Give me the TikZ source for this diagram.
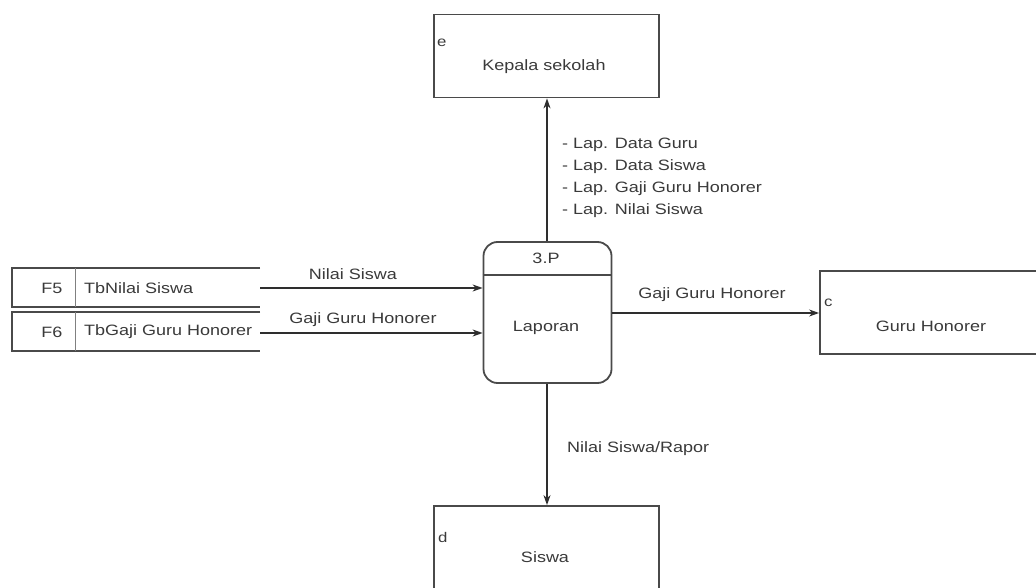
\documentclass[tikz,border=0pt]{standalone}
\usepackage{fontspec}
\setmainfont{Liberation Sans}[FakeStretch=1.2]
\usetikzlibrary{arrows.meta}
\definecolor{boxline}{HTML}{4A4A4A}
\definecolor{flowline}{HTML}{2E2E2E}
\definecolor{txt}{HTML}{3A3A3A}
\begin{document}
\begin{tikzpicture}[x=1pt,y=-1pt,
  entity/.style={draw=boxline, line width=1.8pt, minimum width=225pt, minimum height=83pt, inner sep=0pt},
  proc/.style={draw=boxline, line width=1.8pt, rounded corners=14pt, minimum width=128pt, minimum height=141pt, inner sep=0pt},
  store/.style={draw=none, minimum width=248pt, minimum height=39pt, inner sep=0pt},
  storeline/.style={draw=boxline, line width=1.6pt},
  flow/.style={draw=flowline, line width=1.4pt, -{Stealth[length=10pt,width=7pt]}},
  lbl/.style={font=\fontsize{15}{17}\selectfont, text=txt, inner sep=0pt},
  tag/.style={font=\fontsize{14}{16}\selectfont, text=txt, inner sep=0pt, anchor=west}
]
\useasboundingbox (0,0) rectangle (1036,588);
\clip (0,0) rectangle (1036,588);
\fill[white] (0,0) rectangle (1036,588);

% external entities
\node[entity] (kepala) at (546.5,56) {};
\node[tag] (kepalaid) at (437,43) {e};
\node[lbl] (kepalatxt) at (544,67) {Kepala sekolah};

\node[entity, minimum width=240pt] (guru) at (940,312.5) {};
\node[tag] (guruid) at (824,303) {c};
\node[lbl] (gurutxt) at (931,326) {Guru Honorer};

\node[entity, minimum height=110pt] (siswa) at (546.5,561) {};
\node[tag] (siswaid) at (438,537) {d};
\node[lbl] (siswatxt) at (545,557) {Siswa};

% process
\node[proc] (laporan) at (547.5,312.5) {};
\draw[storeline] (laporan.west |- 0,275) coordinate (pdl) -- (laporan.east |- 0,275) coordinate (pdr);
\node[lbl] (procid) at (546,258) {3.P};
\node[lbl] (proctxt) at (546,328) {Laporan};

% data stores
\node[store] (f5) at (136,287.5) {};
\draw[storeline] (f5.north east) -- (f5.north west) -- (f5.south west) -- (f5.south east);
\draw[storeline, line width=0.8pt, draw=boxline!70] (75,268) -- (75,307);
\node[lbl] (f5id) at (52,288) {F5};
\node[lbl, anchor=west] (f5txt) at (84,288) {TbNilai Siswa};

\node[store] (f6) at (136,331.5) {};
\draw[storeline] (f6.north east) -- (f6.north west) -- (f6.south west) -- (f6.south east);
\draw[storeline, line width=0.8pt, draw=boxline!70] (75,312) -- (75,351);
\node[lbl] (f6id) at (52,332) {F6};
\node[lbl, anchor=west] (f6txt) at (84,332) {TbGaji Guru Honorer};

% flows
\draw[flow] (f5.east |- 0,288) -- (laporan.west |- 0,288);
\node[lbl] (l1) at (353,274) {Nilai Siswa};
\draw[flow] (f6.east |- 0,333) -- (laporan.west |- 0,333);
\node[lbl] (l2) at (363,320) {Gaji Guru Honorer};

\draw[flow] (laporan.east |- 0,313) -- (guru.west |- 0,313);
\node[lbl] (l3) at (712,295) {Gaji Guru Honorer};

\draw[flow] (laporan.north -| 547,0) -- (kepala.south -| 547,0);
\node[lbl, anchor=west, align=left, font=\fontsize{15}{22}\selectfont] (l4) at (562,178)
  {- Lap. Data Guru\\- Lap. Data Siswa\\- Lap. Gaji Guru Honorer\\- Lap. Nilai Siswa};

\draw[flow] (laporan.south -| 547,0) -- (siswa.north -| 547,0);
\node[lbl, anchor=west] (l5) at (567,449) {Nilai Siswa/Rapor};
\end{tikzpicture}
\end{document}
